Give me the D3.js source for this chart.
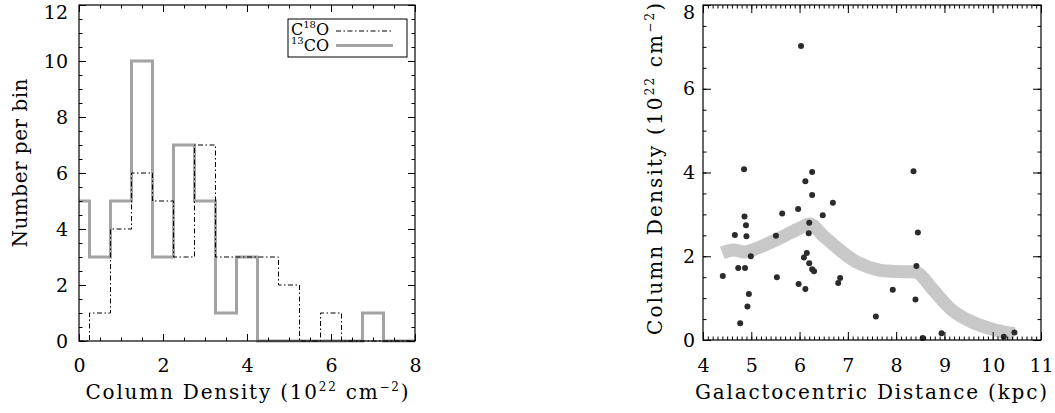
<!DOCTYPE html>
<html>
<head>
<meta charset="utf-8">
<script src="https://cdn.jsdelivr.net/npm/d3@7"></script>
<style>
	body { margin: 0; background: #fff; }
	text { font-family: "DejaVu Serif", serif; fill: #000; }
</style>
</head>
<body>
<div id="chart"></div>
<script>
// LEFT PANEL - histogram, bin centres with 0.5 wide bins
var binCentres = [0, 0.5, 1, 1.5, 2, 2.5, 3, 3.5, 4, 4.5, 5, 5.5, 6, 6.5, 7, 7.5, 8];
var c13oCounts = [5, 3, 5, 10, 3, 7, 5, 1, 3, 0, 0, 0, 0, 0, 1, 0, 0];
var c18oCounts = [0, 1, 4, 6, 5, 3, 7, 3, 3, 3, 2, 0, 1, 0, 0, 0, 0];
var histXTicks = [0, 2, 4, 6, 8];
var histYTicks = [0, 2, 4, 6, 8, 10, 12];

// RIGHT PANEL - clumps vs galactocentric distance
var galDist = [4.41, 4.66, 4.73, 4.77, 4.85, 4.86, 4.87, 4.89, 4.90, 4.92, 4.95, 4.99,
	5.51, 5.53, 5.64, 5.97, 5.98, 6.03, 6.09, 6.12, 6.12, 6.15, 6.19, 6.20, 6.20,
	6.26, 6.26, 6.26, 6.30, 6.48, 6.69, 6.80, 6.84, 7.58, 7.93, 8.36, 8.40, 8.42,
	8.45, 8.55, 8.94, 10.23, 10.45];
var colDens = [1.53, 2.51, 1.72, 0.40, 4.08, 2.95, 1.72, 2.74, 2.48, 0.80, 1.10, 2.00,
	2.49, 1.50, 3.02, 3.13, 1.34, 7.02, 1.97, 3.79, 1.22, 2.08, 2.55, 2.80, 1.83,
	3.46, 4.01, 1.69, 1.64, 2.98, 3.28, 1.36, 1.48, 0.56, 1.20, 4.03, 0.97, 1.77,
	2.57, 0.05, 0.16, 0.08, 0.18];
// smoothed trend (thick grey band)
var trendDist = [4.40, 4.62, 4.86, 5.00, 5.53, 6.00, 6.22, 6.48, 6.83, 7.17, 7.65, 8.20, 8.45, 8.75, 9.16, 9.57, 10.05, 10.45];
var trendDens = [2.08, 2.15, 2.10, 2.14, 2.40, 2.67, 2.77, 2.50, 2.15, 1.87, 1.67, 1.63, 1.60, 1.22, 0.71, 0.43, 0.24, 0.15];
var distTicks = [4, 5, 6, 7, 8, 9, 10, 11];
var densTicks = [0, 2, 4, 6, 8];

var width = 1055, height = 413;

var svg = d3.select('#chart')
	.append('svg')
		.attr('width', width)
		.attr('height', height);

// minor tick values between a and b with step s
function minors(a, b, s){
	var out = [];
	for (var v = a; v <= b + 1e-9; v += s){
		out.push(Math.round(v * 1000) / 1000);
	}
	return out;
}

// IDL style box: inward ticks on all four sides, labels bottom and left
function drawFrame(g, x, y, o){
	var x0 = x.range()[0], x1 = x.range()[1],
		y0 = y.range()[0], y1 = y.range()[1];

	function tidy(sel){
		sel.select('.domain').remove();
		sel.attr('font-family', '"DejaVu Serif", serif')
			.attr('font-size', 19);
	}

	// bottom
	g.append('g').attr('transform', `translate(0,${y0})`)
		.call(d3.axisBottom(x).tickValues(o.xMajor).tickSize(-o.majLen).tickPadding(o.xPad).tickFormat(d3.format('d')))
		.call(tidy);
	g.append('g').attr('transform', `translate(0,${y0})`)
		.call(d3.axisBottom(x).tickValues(o.xMinor).tickSize(-o.minLen).tickFormat(''))
		.call(tidy);
	// top
	g.append('g').attr('transform', `translate(0,${y1})`)
		.call(d3.axisTop(x).tickValues(o.xMajor).tickSize(-o.majLen).tickFormat(''))
		.call(tidy);
	g.append('g').attr('transform', `translate(0,${y1})`)
		.call(d3.axisTop(x).tickValues(o.xMinor).tickSize(-o.minLen).tickFormat(''))
		.call(tidy);
	// left
	var yTop = d3.max(o.yMajor);
	g.append('g').attr('transform', `translate(${x0},0)`)
		.call(d3.axisLeft(y).tickValues(o.yMajor).tickSize(-o.majLen).tickPadding(o.yPad).tickFormat(d3.format('d')))
		.call(tidy)
		.selectAll('text')
			.filter(d => d == yTop)
			.attr('dy', '0.7em');   // keep top label inside the window
	g.append('g').attr('transform', `translate(${x0},0)`)
		.call(d3.axisLeft(y).tickValues(o.yMinor).tickSize(-o.minLen).tickFormat(''))
		.call(tidy);
	// right
	g.append('g').attr('transform', `translate(${x1},0)`)
		.call(d3.axisRight(y).tickValues(o.yMajor).tickSize(-o.majLen).tickFormat(''))
		.call(tidy);
	g.append('g').attr('transform', `translate(${x1},0)`)
		.call(d3.axisRight(y).tickValues(o.yMinor).tickSize(-o.minLen).tickFormat(''))
		.call(tidy);

	g.append('rect')
		.attr('x', x0)
		.attr('y', y1)
		.attr('width', x1 - x0)
		.attr('height', y0 - y1)
		.style('fill', 'none')
		.style('stroke', '#000')
		.style('stroke-width', 1.2);
}

// titles with superscript pieces: parts = [[text, isSup], ...]
function addTitle(g, parts, x, y, len, rotate){
	var t = g.append('text')
		.attr('text-anchor', 'middle')
		.attr('font-size', 20)
		.attr('textLength', len)
		.attr('lengthAdjust', 'spacing')
		.attr('transform', `translate(${x},${y})` + (rotate ? ' rotate(-90)' : ''));
	var up = false;
	parts.forEach(p => {
		var s = t.append('tspan').text(p[0]);
		if (p[1] && !up){ s.attr('dy', -8).attr('font-size', 12); up = true; }
		else if (p[1]) { s.attr('font-size', 12); }
		else if (up){ s.attr('dy', 8); up = false; }
	});
	return t;
}

var densTitle = [['Column Density (10', false], ['22', true], [' cm', false], ['\u22122', true], [')', false]];

// ---------------- LEFT: HISTOGRAM ----------------
var hx = d3.scaleLinear().domain([0, 8]).range([79, 415]);
var hy = d3.scaleLinear().domain([0, 12]).range([341, 5]);

var left = svg.append('g').classed('hist', true);

var stepLine = counts => d3.line()
	.x((d, i) => hx(d))
	.y((d, i) => hy(counts[i]))
	.curve(d3.curveStep)(binCentres);

left.append('path')
	.attr('d', stepLine(c13oCounts))
	.style('fill', 'none')
	.style('stroke', '#a3a3a3')
	.style('stroke-width', 3);

left.append('path')
	.attr('d', stepLine(c18oCounts))
	.style('fill', 'none')
	.style('stroke', '#000')
	.style('stroke-width', 1)
	.style('stroke-dasharray', '5,2.5,1.5,2.5');

drawFrame(left, hx, hy, {
	xMajor: histXTicks, xMinor: minors(0, 8, 0.5),
	yMajor: histYTicks, yMinor: minors(0, 12, 0.5),
	majLen: 7, minLen: 3.5, xPad: 18, yPad: 11
});

// legend
var leg = left.append('g');
leg.append('rect')
	.attr('x', 288).attr('y', 19)
	.attr('width', 119).attr('height', 38)
	.style('fill', '#fff').style('stroke', '#000').style('stroke-width', 1);
var lt1 = leg.append('text').attr('x', 291).attr('y', 35).attr('font-size', 16);
lt1.append('tspan').text('C');
lt1.append('tspan').text('18').attr('font-size', 10).attr('dy', -7);
lt1.append('tspan').text('O').attr('dy', 7);
var lt2 = leg.append('text').attr('x', 291).attr('y', 51).attr('font-size', 16);
lt2.append('tspan').text('13').attr('font-size', 10).attr('dy', -7);
lt2.append('tspan').text('CO').attr('dy', 7);
leg.append('line')
	.attr('x1', 336).attr('x2', 393).attr('y1', 31).attr('y2', 31)
	.style('stroke', '#000').style('stroke-width', 1)
	.style('stroke-dasharray', '5,2.5,1.5,2.5');
leg.append('line')
	.attr('x1', 336).attr('x2', 393).attr('y1', 45.5).attr('y2', 45.5)
	.style('stroke', '#a3a3a3').style('stroke-width', 3);

addTitle(left, densTitle, 247, 399, 323, false);
addTitle(left, [['Number per bin', false]], 27, 163, 169, true);

// ---------------- RIGHT: SCATTER ----------------
var sx = d3.scaleLinear().domain([4, 11]).range([703, 1041]);
var sy = d3.scaleLinear().domain([0, 8]).range([340, 5]);

var right = svg.append('g').classed('scatter', true);

right.append('path')
	.datum(trendDist.map((d, i) => [d, trendDens[i]]))
	.attr('d', d3.line().x(d => sx(d[0])).y(d => sy(d[1])).curve(d3.curveCatmullRom.alpha(0.5)))
	.style('fill', 'none')
	.style('stroke', '#c8c8c8')
	.style('stroke-width', 13)
	.style('stroke-linecap', 'butt');

right.selectAll('circle')
	.data(galDist)
	.enter()
	.append('circle')
		.attr('cx', d => sx(d))
		.attr('cy', (d, i) => sy(colDens[i]))
		.attr('r', 3)
		.style('fill', '#2b2b2b');

drawFrame(right, sx, sy, {
	xMajor: distTicks, xMinor: minors(4, 11, 0.1),
	yMajor: densTicks, yMinor: minors(0, 8, 0.5),
	majLen: 8, minLen: 3.5, xPad: 19, yPad: 8
});

addTitle(right, [['Galactocentric Distance (kpc)', false]], 871, 399, 352, false);
addTitle(right, densTitle, 662, 169, 332, true);
</script>
</body>
</html>
